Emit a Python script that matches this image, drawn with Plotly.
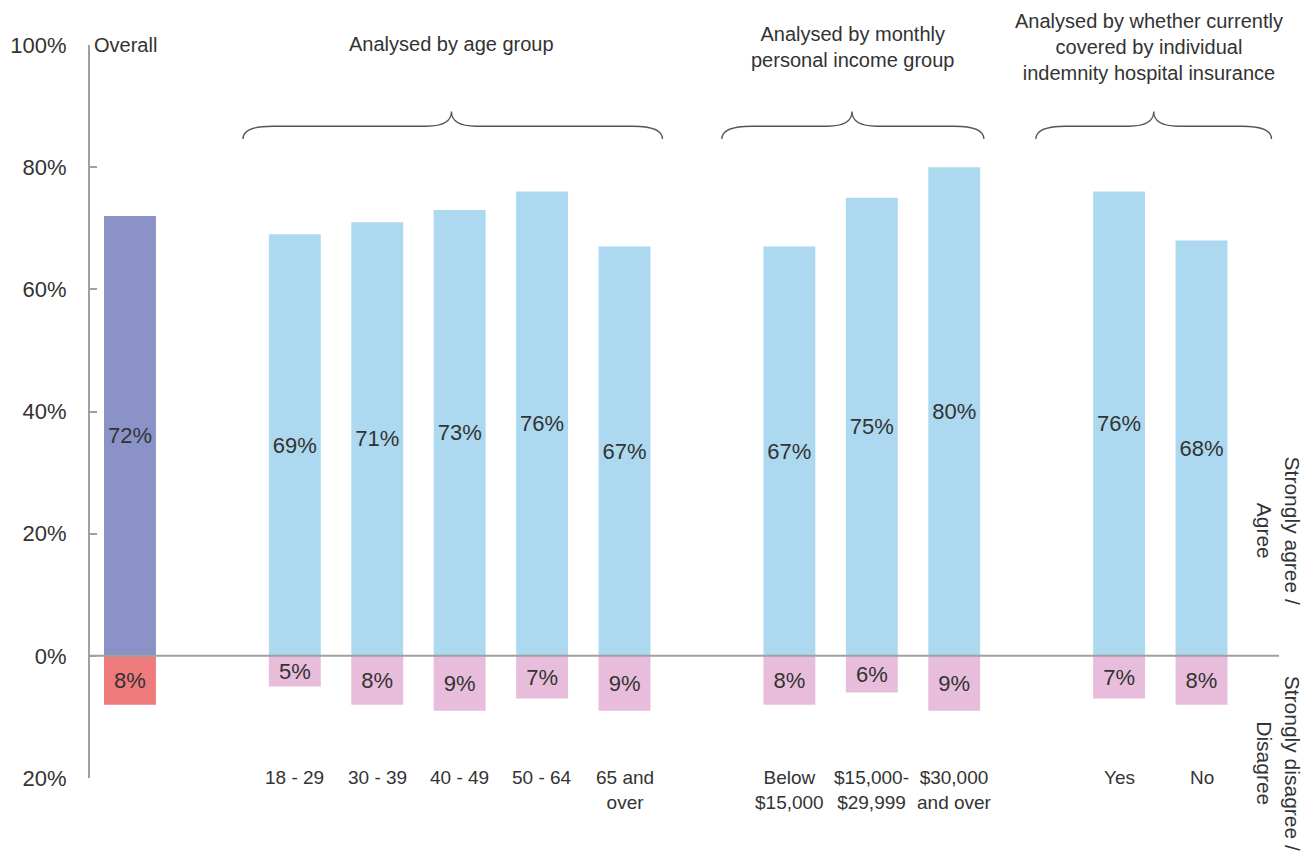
import plotly.graph_objects as go

# ---- data ----
categories = ["Overall", "18 - 29", "30 - 39", "40 - 49", "50 - 64", "65 and<br>over",
              "Below<br>$15,000", "$15,000-<br>$29,999", "$30,000<br>and over", "Yes", "No"]
groups = [0, 1, 1, 1, 1, 1, 2, 2, 2, 3, 3]
agree = [72, 69, 71, 73, 76, 67, 67, 75, 80, 76, 68]
disagree = [8, 5, 8, 9, 7, 9, 8, 6, 9, 7, 8]
ytick_vals = [100, 80, 60, 40, 20, 0, -20]
ytick_text = ["100%", "80%", "60%", "40%", "20%", "0%", "20%"]
group_titles = ["Overall", "Analysed by age group",
                "Analysed by monthly<br>personal income group",
                "Analysed by whether currently<br>covered by individual<br>indemnity hospital insurance"]

# x positions: one slot per bar, one empty slot between groups
xpos = []
pos = 0
for i, g in enumerate(groups):
    if i > 0:
        pos += 1 if g == groups[i - 1] else 2
    xpos.append(pos)

FONT = "Liberation Sans, Arial, sans-serif"
TXT = "#333333"
AX = "#a0a0a0"

agree_colors = ["#8a92c8" if g == 0 else "#acd9f0" for g in groups]
dis_colors = ["#f07b7d" if g == 0 else "#e8bddb" for g in groups]

fig = go.Figure()
fig.add_trace(go.Bar(x=xpos, y=agree, width=0.63, marker=dict(color=agree_colors, line=dict(width=0)),
                     text=[f"{v}%" for v in agree], textposition="inside", insidetextanchor="middle",
                     textangle=0, textfont=dict(size=22, color=TXT, family=FONT),
                     constraintext="none", hoverinfo="skip"))
fig.add_trace(go.Bar(x=xpos, y=[-v for v in disagree], width=0.63,
                     marker=dict(color=dis_colors, line=dict(width=0)),
                     text=[f"{v}%" for v in disagree], textposition="inside", insidetextanchor="middle",
                     textangle=0, textfont=dict(size=22, color=TXT, family=FONT),
                     constraintext="none", hoverinfo="skip"))

x_lo, x_hi = -0.485, 13.94

# zero line above bars
fig.add_shape(type="line", xref="x", yref="y", x0=x_lo, x1=x_hi, y0=0, y1=0,
              line=dict(color=AX, width=2), layer="above")

# category labels (the overall bar has its label at the top)
for x, c, g in zip(xpos, categories, groups):
    if g == 0:
        continue
    fig.add_annotation(x=x, y=-20, xref="x", yref="y", text=c, showarrow=False,
                       yanchor="top", yshift=13, font=dict(size=19, color=TXT, family=FONT),
                       align="center")

# group titles and braces
title_pos = [(-0.05, 0), (3.9, 1), (8.76, -2), (12.36, -2)]
for t, (tx, dy) in zip(group_titles, title_pos):
    fig.add_annotation(x=tx, y=100, xref="x", yref="y", text=t, showarrow=False, yshift=dy,
                       font=dict(size=20, color=TXT, family=FONT), align="center",
                       xanchor="center", yanchor="middle")

def brace(x0, x1, xt, y_end=84.6, y_line=86.7, y_tip=89.1, r=0.36, rt=0.3):
    return (f"M {x0},{y_end} Q {x0},{y_line} {x0 + r},{y_line} "
            f"L {xt - rt},{y_line} Q {xt},{y_line} {xt},{y_tip} "
            f"Q {xt},{y_line} {xt + rt},{y_line} "
            f"L {x1 - r},{y_line} Q {x1},{y_line} {x1},{y_end}")

for x0, x1, xt in [(1.37, 6.46, 3.9), (7.18, 10.36, 8.76), (10.99, 13.85, 12.42)]:
    fig.add_shape(type="path", xref="x", yref="y", path=brace(x0, x1, xt),
                  line=dict(color="#555555", width=1.3))

# right-side rotated labels
fig.add_annotation(x=1.0, y=20.5, xref="paper", yref="y", text="Strongly agree /<br>Agree",
                   showarrow=False, textangle=90, xanchor="center", yanchor="middle",
                   font=dict(size=21, color=TXT, family=FONT), align="center")
fig.add_annotation(x=1.0, y=-17.5, xref="paper", yref="y", text="Strongly disagree /<br>Disagree",
                   showarrow=False, textangle=90, xanchor="center", yanchor="middle",
                   font=dict(size=21, color=TXT, family=FONT), align="center")

fig.update_layout(
    width=1314, height=859,
    margin=dict(l=82, r=43, t=37, b=89, autoexpand=False),
    paper_bgcolor="white", plot_bgcolor="white",
    showlegend=False, barmode="overlay",
    font=dict(family=FONT, color=TXT),
    xaxis=dict(range=[x_lo, x_hi], showgrid=False, zeroline=False, showticklabels=False,
               showline=False, fixedrange=True, automargin=False),
    yaxis=dict(range=[-20, 100], tickvals=ytick_vals, ticktext=ytick_text,
               showgrid=False, zeroline=False, showline=True, linecolor=AX, linewidth=2,
               ticks="inside", ticklen=7, tickwidth=2, tickcolor=AX,
               tickfont=dict(size=22, color=TXT, family=FONT), ticklabelstandoff=17,
               fixedrange=True, automargin=False),
)

fig.write_html("out.html")
